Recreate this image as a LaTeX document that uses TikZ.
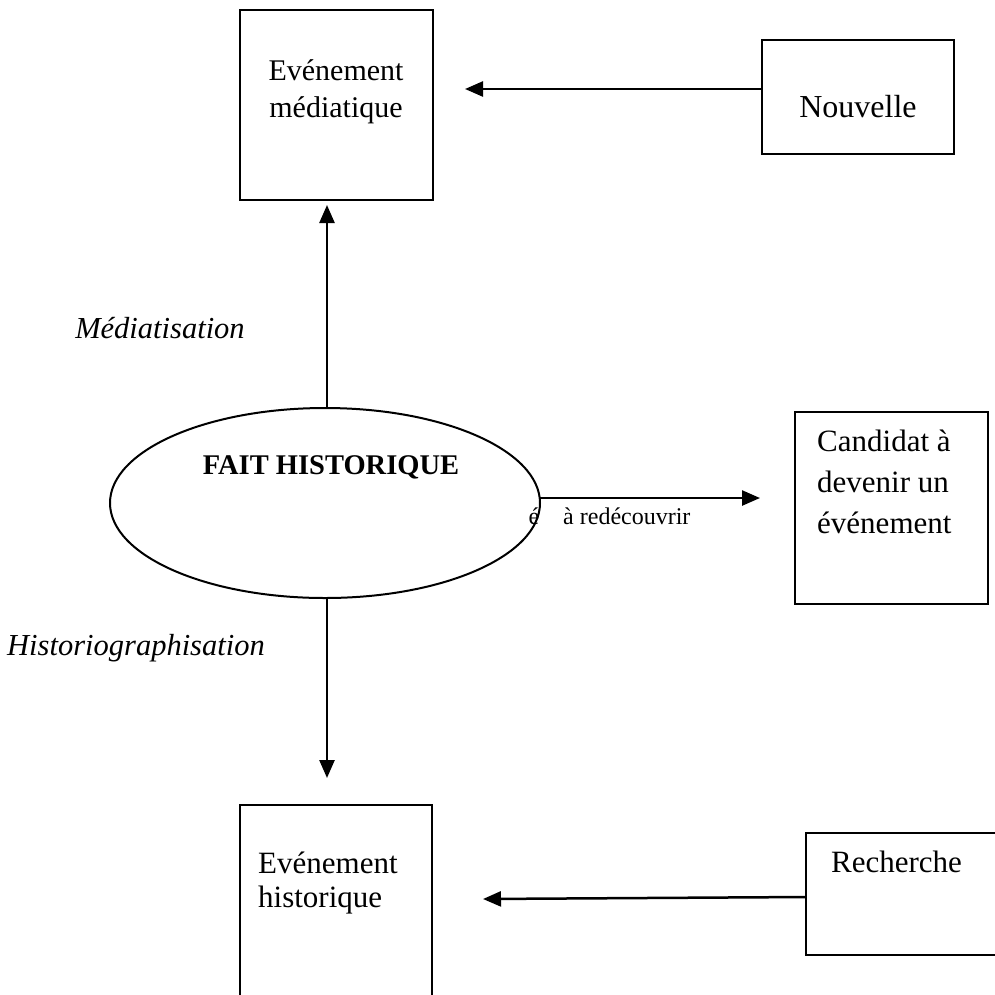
\documentclass[tikz,border=0pt]{standalone}
\usepackage{fontspec}
\setmainfont{Liberation Serif}
\usetikzlibrary{shapes.geometric,arrows.meta}
\begin{document}
\begin{tikzpicture}[x=1pt,y=-1pt,
  box/.style={draw,line width=2pt,rectangle,inner sep=0pt},
  txt/.style={inner sep=0pt,font=\fontsize{31}{38}\selectfont},
  ital/.style={inner sep=0pt,font=\fontsize{30.5}{38}\selectfont\itshape},
  small/.style={inner sep=0pt,font=\fontsize{24}{28}\selectfont},
  arr/.style={line width=2.5pt,-{Triangle[length=18pt,width=15pt]}}]
\useasboundingbox (0,0) rectangle (995,994);
\clip (0,0) rectangle (995,994);
% boxes
\node[box,minimum width=193pt,minimum height=190pt] (bm) at (336.5,105) {};
\node[box,minimum width=192pt,minimum height=114pt] (nv) at (858,97) {};
\node[box,minimum width=193pt,minimum height=192pt] (cd) at (891.5,508) {};
\node[box,minimum width=192pt,minimum height=260pt] (bh) at (336,935) {};
\node[box,minimum width=204pt,minimum height=122pt] (rc) at (908,894) {};
% ellipse
\node[draw,ellipse,line width=2pt,minimum width=430pt,minimum height=190pt,inner sep=0pt] (fh) at (325,503) {};
% texts
\node[txt,align=center,font=\fontsize{30}{37}\selectfont] (tbm) at (336,92) {Evénement\\médiatique};
\node[txt,font=\fontsize{32}{38}\selectfont] (tnv) at (858,107) {Nouvelle};
\node[txt,align=left,anchor=west,font=\fontsize{31}{41}\selectfont] (tcd) at (817,482) {Candidat à\\devenir un\\événement};
\node[txt,align=left,anchor=west,font=\fontsize{31}{34}\selectfont] (tbh) at (258,883) {Evénement\\historique};
\node[txt] (trc) at (896.5,862) {Recherche};
\node[ital] (tmed) at (160,328) {Médiatisation};
\node[ital] (this) at (136,648) {Historiographisation};
\node[inner sep=0pt,font=\fontsize{28.5}{32}\selectfont\bfseries] (tfh) at (331,467) {FAIT HISTORIQUE};
\node[small] (te) at (534,516) {é};
\node[small,anchor=west] (tred) at (563,516) {à redécouvrir};
% connectors
\coordinate (a1) at (465,89);
\draw[arr] (nv.west |- a1) -- (a1);
\coordinate (a2) at (327,205);
\draw[arr] (fh.north -| a2) -- (a2);
\coordinate (a3) at (760,498);
\coordinate (a3s) at (540,498);
\draw[arr] (a3s) -- (a3);
\coordinate (a4) at (327,778);
\draw[arr] (fh.south -| a4) -- (a4);
\coordinate (a5) at (483,899);
\coordinate (a5s) at (806,897);
\draw[arr] (a5s) -- (a5);
\end{tikzpicture}
\end{document}
